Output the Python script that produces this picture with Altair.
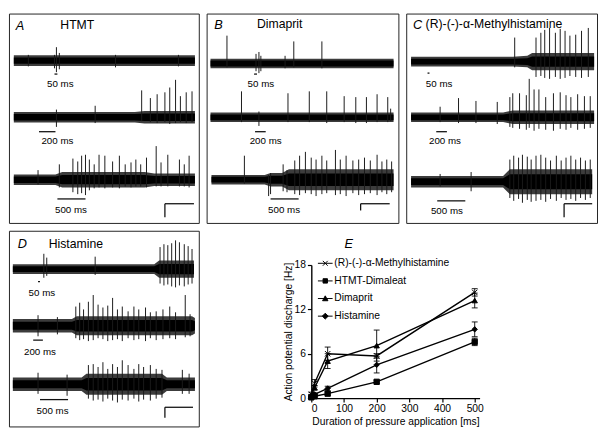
import altair as alt
import pandas as pd

FONT = "Liberation Sans"

# ---------------- Panel E : dose-response data ----------------
durations = [0, 10, 50, 200, 500]
series_names = ["(R)-(-)-α-Methylhistamine", "HTMT-Dimaleat", "Dimaprit", "Histamine"]
methyl_mean = [0.5, 2.0, 6.0, 5.7, 14.3]
methyl_err = [0.3, 0.5, 0.9, 0.3, 0.5]
htmt_mean = [0.1, 0.25, 0.6, 2.2, 7.6]
htmt_err = [0.1, 0.1, 0.2, 0.2, 0.5]
dimaprit_mean = [0.3, 1.4, 5.0, 7.1, 13.2]
dimaprit_err = [0.2, 0.3, 1.0, 2.1, 1.0]
histamine_mean = [0.2, 0.5, 1.3, 4.5, 9.3]
histamine_err = [0.1, 0.2, 0.3, 1.1, 1.0]
x_ticks = [0, 100, 200, 300, 400, 500]
y_ticks = [0, 6, 12, 18]

# ---------------- Trace panels (values read in panel pixels) ----------------
# each trace: centre line, noise envelope knots (x, half width), spikes (x, top, bottom)
A1_c, A1_band = 49, [(5, 5.5), (192, 5.5)]
A1_spk = [(47, 43, 57), (49, 35, 61), (52, 41, 58), (20, 43, 55), (110, 43, 56), (175, 43, 55)]
A2_c, A2_band = 108, [(5, 5.5), (130, 5.5), (140, 6.5), (192, 6.5)]
A2_spk = [(49, 100, 118), (89, 96, 114), (137, 80, 112), (146, 88, 113), (153, 84, 114), (161, 82, 113),
          (166, 77, 115), (172, 69, 114), (177, 86, 113), (183, 82, 114), (189, 81, 113)]
A3_c, A3_band = 173, [(5, 5.5), (48, 5.5), (55, 8), (140, 8), (150, 6.5), (192, 6.5)]
A3_spk = [(30, 163, 178), (52, 157, 181), (66, 151, 186), (71, 154, 188), (75, 148, 187), (79, 147, 189),
          (83, 152, 184), (88, 157, 182), (93, 147, 181), (99, 148, 182), (107, 154, 181), (114, 148, 182),
          (120, 157, 180), (126, 155, 181), (131, 152, 180), (136, 157, 180), (142, 150, 181), (152, 138, 180),
          (157, 155, 180), (164, 147, 180), (176, 152, 180), (181, 157, 180), (186, 148, 181)]

B1_c, B1_band = 52, [(4, 5), (193, 5)]
B1_spk = [(21, 23, 56), (51, 42, 60), (54, 40, 62), (56, 44, 60), (81, 44, 57), (90, 29, 56), (119, 29, 57)]
B2_c, B2_band = 108, [(4, 5), (193, 5)]
B2_spk = [(36, 81, 113), (54, 102, 117), (84, 83, 113), (106, 81, 113), (124, 81, 114), (142, 86, 113),
          (154, 87, 114), (165, 87, 114), (176, 84, 113), (187, 87, 113), (190, 99, 112)]
B3_c, B3_band = 173, [(5, 5), (60, 5), (66, 7), (78, 7), (85, 11), (193, 11)]
B3_spk = [(39, 148, 177), (64, 168, 190), (66, 166, 188), (79, 157, 185), (83, 163, 186), (91, 153, 188),
          (96, 148, 189), (102, 144, 187), (108, 150, 188), (113, 152, 190), (119, 148, 188), (124, 153, 187),
          (133, 142, 189), (138, 152, 188), (144, 148, 190), (151, 153, 187), (157, 152, 189), (163, 150, 188),
          (169, 153, 187), (176, 147, 189), (181, 154, 186), (186, 152, 188), (191, 154, 186)]

C1_c, C1_band = 50, [(5, 5), (110, 5), (125, 6), (130, 9), (194, 9)]
C1_spk = [(112, 25, 56), (134, 25, 66), (139, 20, 65), (143, 17, 67), (148, 15, 68), (154, 20, 66),
          (159, 16, 68), (164, 18, 67), (169, 23, 65), (175, 22, 66), (181, 18, 67), (188, 15, 66)]
C2_c, C2_band = 108, [(5, 5), (100, 5), (110, 7), (194, 7)]
C2_spk = [(35, 97, 113), (54, 88, 114), (72, 91, 114), (94, 92, 115), (107, 87, 118), (110, 83, 119),
          (117, 83, 120), (124, 85, 121), (127, 68, 119), (132, 79, 122), (137, 79, 120), (144, 87, 121),
          (152, 83, 122), (159, 82, 120), (165, 85, 121), (170, 87, 119), (177, 84, 121), (184, 86, 120),
          (190, 86, 119)]
C3_c, C3_band = 175, [(5, 6), (100, 6), (107, 13), (192, 13)]
C3_spk = [(35, 167, 180), (67, 165, 185), (107, 152, 192), (111, 148, 195), (116, 150, 193), (120, 147, 197),
          (125, 149, 194), (129, 152, 196), (134, 148, 195), (139, 147, 194), (144, 150, 196), (149, 153, 193),
          (155, 148, 195), (160, 153, 192), (165, 150, 194), (170, 148, 193), (175, 152, 195), (180, 150, 192),
          (185, 153, 194), (190, 152, 192)]

D1_c, D1_band = 40, [(4, 5), (150, 5), (155, 9), (191, 9)]
D1_spk = [(36, 24, 49), (39, 28, 47), (89, 27, 46), (156, 17, 55), (160, 14, 57), (164, 15, 56), (168, 13, 58),
          (172, 10, 59), (176, 12, 57), (181, 14, 58), (185, 16, 56), (189, 19, 55)]
D2_c, D2_band = 99, [(4, 7), (65, 7), (70, 10), (189, 10), (192, 8)]
D2_spk = [(30, 88, 110), (50, 90, 108), (69, 79, 112), (73, 75, 114), (77, 82, 113), (82, 74, 115),
          (87, 67, 114), (92, 77, 112), (97, 80, 113), (102, 78, 115), (107, 70, 114), (112, 82, 113),
          (117, 79, 115), (123, 84, 112), (129, 79, 114), (134, 82, 113), (141, 80, 115), (146, 85, 112),
          (152, 84, 114), (159, 82, 113), (166, 79, 112), (172, 85, 113), (182, 67, 111), (187, 87, 110)]
D3_c, D3_band = 160, [(4, 7), (75, 7), (80, 11), (158, 11), (163, 7), (192, 7)]
D3_spk = [(30, 148, 170), (60, 150, 172), (82, 140, 175), (87, 139, 177), (92, 142, 176), (97, 137, 178),
          (102, 144, 175), (107, 139, 177), (112, 142, 179), (117, 135, 176), (123, 140, 177), (129, 144, 175),
          (134, 139, 178), (139, 142, 176), (146, 140, 177), (152, 144, 175), (158, 145, 174), (179, 145, 170),
          (186, 149, 170)]

# time scale bars (x1, x2, y) and labels (text, x, y)
A_bars = [(47, 50, 63), (31, 48, 123), (50, 79, 193)]
A_lbls = [("50 ms", 53, 73), ("200 ms", 50, 133), ("500 ms", 64, 205)]
B_bars = [(49, 52, 63), (50, 61, 123), (66, 95, 193)]
B_lbls = [("50 ms", 56, 73), ("200 ms", 61, 133), ("500 ms", 80, 205)]
C_bars = [(22, 24, 62), (31, 42, 123), (32, 61, 195)]
C_lbls = [("50 ms", 34, 73), ("200 ms", 40, 133), ("500 ms", 42, 206)]
D_bars = [(30, 32, 53), (25, 35, 114), (32, 61, 176)]
D_lbls = [("50 ms", 34, 65), ("200 ms", 32, 126), ("500 ms", 45, 188)]
# calibration corner: (x, x_end, y_top, y_end)
A_cal = (161, 191, 198, 212)
B_cal = (159, 189, 198, 205)
C_cal = (163, 192, 198, 212)
D_cal = (161, 190, 184, 195)


def trace_panel(W, H, w, h, traces, bars, lbls, cal, letter, letter_xy, title, title_xy):
    outer, inner, spk = [], [], []
    for i, (c, band, spikes) in enumerate(traces):
        for x, hw in band:
            outer.append({"tr": i, "x": x, "y": c - hw, "y2": c + hw})
            inner.append({"tr": i, "x": x, "y": c - hw * 0.6, "y2": c + hw * 0.6})
        for x, t, b in spikes:
            spk.append({"x": x, "y": t, "y2": b})
    X = alt.X("x:Q", scale=alt.Scale(domain=[0, W], nice=False, zero=False), axis=None)
    Y = alt.Y("y:Q", scale=alt.Scale(domain=[0, H], nice=False, zero=False, reverse=True), axis=None)
    l_outer = alt.Chart(pd.DataFrame(outer)).mark_area(color="#3c3c3c").encode(
        x=X, y=Y, y2=alt.Y2("y2:Q"), detail="tr:N")
    l_inner = alt.Chart(pd.DataFrame(inner)).mark_area(color="#000000").encode(
        x=X, y=Y, y2=alt.Y2("y2:Q"), detail="tr:N")
    l_spk = alt.Chart(pd.DataFrame(spk)).mark_rule(color="#1a1a1a", strokeWidth=1).encode(
        x=X, y=Y, y2=alt.Y2("y2:Q"))
    bar_df = pd.DataFrame([{"x": a, "x2": b, "y": y} for a, b, y in bars] +
                          [{"x": cal[0], "x2": cal[1], "y": cal[2]}])
    l_bar = alt.Chart(bar_df).mark_rule(color="#111111", strokeWidth=1.3).encode(
        x=X, x2=alt.X2("x2:Q"), y=Y)
    cal_df = pd.DataFrame([{"x": cal[0], "y": cal[2], "y2": cal[3]}])
    l_cal = alt.Chart(cal_df).mark_rule(color="#111111", strokeWidth=1.3).encode(
        x=X, y=Y, y2=alt.Y2("y2:Q"))
    lbl_df = pd.DataFrame([{"t": t, "x": x, "y": y} for t, x, y in lbls])
    l_lbl = alt.Chart(lbl_df).mark_text(font=FONT, fontSize=10, color="black", align="center",
                                        baseline="middle").encode(x=X, y=Y, text="t:N")
    let_df = pd.DataFrame([{"t": letter, "x": letter_xy[0], "y": letter_xy[1]}])
    l_let = alt.Chart(let_df).mark_text(font=FONT, fontSize=13, fontStyle="italic", color="black",
                                        align="left", baseline="alphabetic").encode(x=X, y=Y, text="t:N")
    tit_df = pd.DataFrame([{"t": title, "x": title_xy[0], "y": title_xy[1]}])
    l_tit = alt.Chart(tit_df).mark_text(font=FONT, fontSize=12.5, color="black",
                                        align="left", baseline="alphabetic").encode(x=X, y=Y, text="t:N")
    return alt.layer(l_outer, l_inner, l_spk, l_bar, l_cal, l_lbl, l_let, l_tit).properties(width=w, height=h)


pA = trace_panel(196, 218, 194, 214,
                 [(A1_c, A1_band, A1_spk), (A2_c, A2_band, A2_spk), (A3_c, A3_band, A3_spk)],
                 A_bars, A_lbls, A_cal, "A", (7, 17), "HTMT", (53, 16))
pB = trace_panel(198, 218, 196, 214,
                 [(B1_c, B1_band, B1_spk), (B2_c, B2_band, B2_spk), (B3_c, B3_band, B3_spk)],
                 B_bars, B_lbls, B_cal, "B", (8, 16), "Dimaprit", (52, 15))
pC = trace_panel(197, 218, 195, 214,
                 [(C1_c, C1_band, C1_spk), (C2_c, C2_band, C2_spk), (C3_c, C3_band, C3_spk)],
                 C_bars, C_lbls, C_cal, "C", (7, 16), "(R)-(-)-α-Methylhistamine", (20, 15))
pD = trace_panel(196, 204, 194, 200,
                 [(D1_c, D1_band, D1_spk), (D2_c, D2_band, D2_spk), (D3_c, D3_band, D3_spk)],
                 D_bars, D_lbls, D_cal, "D", (9, 18), "Histamine", (41, 18))

# ---------------- Panel E chart ----------------
rows = []
for name, means, errs in zip(series_names,
                             [methyl_mean, htmt_mean, dimaprit_mean, histamine_mean],
                             [methyl_err, htmt_err, dimaprit_err, histamine_err]):
    for x, m, e in zip(durations, means, errs):
        rows.append({"s": name, "x": x, "y": m, "lo": m - e, "hi": m + e})
dfE = pd.DataFrame(rows)

XT = "Duration of pressure application [ms]"
YT = "Action potential discharge [Hz]"
x_axis = alt.Axis(values=x_ticks, title=XT, grid=False, tickSize=4, labelPadding=2, labelFontSize=10.5,
                  titleFontSize=10.5, titlePadding=3, domainWidth=1.4, tickWidth=1.2)
y_axis = alt.Axis(values=y_ticks, title=YT, grid=False, tickSize=4, labelPadding=2, labelFontSize=10.5,
                  titleFontSize=10.5, titlePadding=1, domainWidth=1.4, tickWidth=1.2)
xs = alt.Scale(domain=[0, 515], nice=False, zero=False)
ys = alt.Scale(domain=[0, 18], nice=False)
EX = alt.X("x:Q", scale=xs, axis=x_axis, title=XT)
EY = alt.Y("y:Q", scale=ys, axis=y_axis, title=YT)
EYlo = alt.Y("lo:Q", scale=ys, axis=y_axis, title=YT)
EYhi = alt.Y("hi:Q", scale=ys, axis=y_axis, title=YT)

base = alt.Chart(dfE)
e_lines = base.mark_line(color="black", strokeWidth=1.4).encode(x=EX, y=EY, detail="s:N")
e_err = base.mark_rule(color="black", strokeWidth=0.9).encode(x=EX, y=EYlo, y2=alt.Y2("hi:Q"))
e_cap_lo = base.mark_rule(color="black", strokeWidth=0.9, xOffset=-3, x2Offset=3).encode(
    x=EX, x2=alt.X2("x:Q"), y=EYlo)
e_cap_hi = base.mark_rule(color="black", strokeWidth=0.9, xOffset=-3, x2Offset=3).encode(
    x=EX, x2=alt.X2("x:Q"), y=EYhi)
XPATH = "M-1,-1L1,1M-1,1L1,-1"
e_pts = base.mark_point(fill="black", stroke="black", strokeWidth=1, opacity=1, size=30).encode(
    x=EX, y=EY,
    shape=alt.Shape("s:N", scale=alt.Scale(domain=series_names,
                                           range=[XPATH, "square", "triangle-up", "diamond"]),
                    legend=None))
LX = "M-3,0L3,0M-1,-1L1,1M-1,1L1,-1"
LSQ = "M-3,0L3,0M-0.9,-0.9L0.9,-0.9L0.9,0.9L-0.9,0.9Z"
LTRI = "M-3,0L3,0M0,-1.1L1.1,0.9L-1.1,0.9Z"
LDIA = "M-3,0L3,0M0,-1.2L1.2,0L0,1.2L-1.2,0Z"
e_leg = alt.Chart(pd.DataFrame({"s": series_names})).transform_filter("false").mark_point(
    fill="black", stroke="black", strokeWidth=1, opacity=1, size=25).encode(
    shape=alt.Shape("s:N", scale=alt.Scale(domain=series_names, range=[LX, LSQ, LTRI, LDIA]),
                    legend=alt.Legend(orient="none", legendX=9, legendY=-7, title=None,
                                      labelFontSize=10.5, labelFont=FONT, labelColor="black",
                                      symbolSize=25, labelOffset=4, rowPadding=7, padding=0,
                                      symbolStrokeWidth=1)))

pE = alt.layer(e_lines, e_err, e_cap_lo, e_cap_hi, e_pts, e_leg).resolve_scale(shape="independent").properties(
    width=172, height=136, view=alt.ViewBackground(stroke="transparent"))

# panel letter E sits in a small header cell above the graph
e_head = alt.Chart(pd.DataFrame({"t": ["E"]})).mark_text(
    font=FONT, fontSize=13, fontStyle="italic", color="black", align="left", baseline="alphabetic").encode(
    text="t:N", x=alt.value(34), y=alt.value(18)).properties(
    width=172, height=20, view=alt.ViewBackground(stroke="transparent"))

top = alt.hconcat(pA, pB, pC, spacing=6)
bottom = alt.hconcat(pD, alt.vconcat(e_head, pE, spacing=5), spacing=84)

chart = alt.vconcat(top, bottom, spacing=6).properties(padding=0).configure_view(
    stroke="#222222", strokeWidth=1).configure_axis(
    labelColor="black", domainColor="black", tickColor="black", titleColor="black",
    titleFontWeight="normal", labelFont=FONT, titleFont=FONT).configure_text(font=FONT)

chart.save("out.html", embed_options={"renderer": "svg", "actions": False})
